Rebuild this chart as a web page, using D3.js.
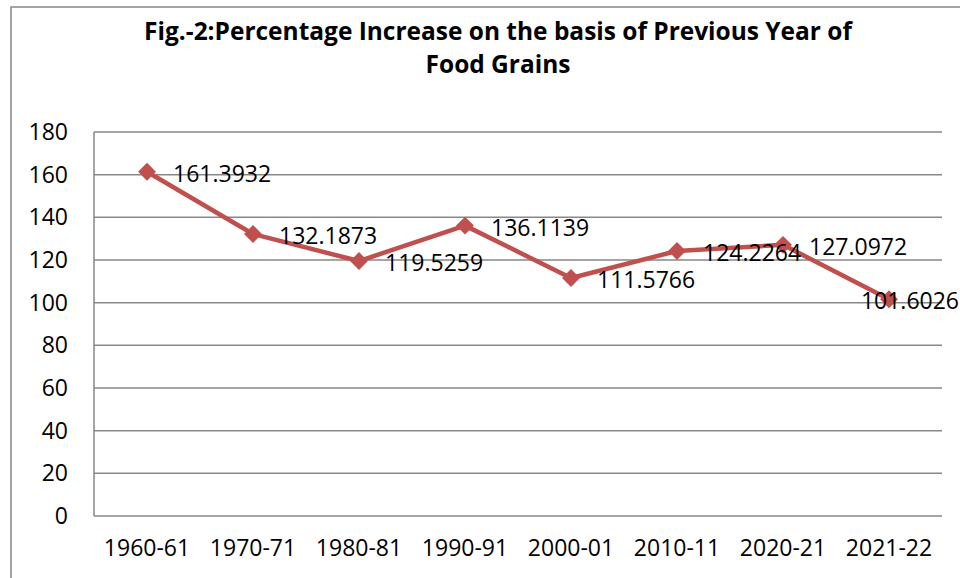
<!DOCTYPE html>
<html>
<head>
<meta charset="utf-8">
<script src="https://cdn.jsdelivr.net/npm/d3@7"></script>
<style>
  html, body { margin: 0; padding: 0; background: #fff; }
  svg { display: block; }
</style>
</head>
<body>
<script>
const categories = ["1960-61", "1970-71", "1980-81", "1990-91", "2000-01", "2010-11", "2020-21", "2021-22"];
const values = [161.3932, 132.1873, 119.5259, 136.1139, 111.5766, 124.2264, 127.0972, 101.6026];
const yTicks = [0, 20, 40, 60, 80, 100, 120, 140, 160, 180];
const titleLines = ["Fig.-2:Percentage Increase on the basis of Previous Year of", "Food Grains"];

const W = 960, H = 578;
const plot = { left: 94, right: 942, top: 132, bottom: 516 };
const font = "'Open Sans', 'Liberation Sans', sans-serif";
const lineColor = "#C0504D";
const gridColor = "#878787";

const svg = d3.select("body").append("svg").attr("width", W).attr("height", H);

// outer chart border
svg.append("rect")
  .attr("x", 11).attr("y", 7).attr("width", 980).attr("height", 600)
  .attr("fill", "#fff").attr("stroke", gridColor).attr("stroke-width", 1.5);

const x = d3.scaleBand().domain(categories).range([plot.left, plot.right]).padding(0);
const y = d3.scaleLinear().domain([0, 180]).range([plot.bottom, plot.top]);

// gridlines
svg.append("g").selectAll("line").data(yTicks).join("line")
  .attr("x1", plot.left).attr("x2", plot.right)
  .attr("y1", d => y(d)).attr("y2", d => y(d))
  .attr("stroke", gridColor).attr("stroke-width", 1.5);

// vertical axis line
svg.append("line")
  .attr("x1", plot.left).attr("x2", plot.left)
  .attr("y1", plot.top).attr("y2", plot.bottom)
  .attr("stroke", gridColor).attr("stroke-width", 1.5);

// y axis labels
const yAxis = d3.axisLeft(y).tickValues(yTicks).tickSize(0).tickPadding(26).tickFormat(d3.format("d"));
const gy = svg.append("g").attr("transform", `translate(${plot.left},0)`).call(yAxis);
gy.select(".domain").remove();
gy.selectAll("text").attr("font-family", font).attr("font-size", 23).attr("fill", "#000");

// x axis labels
const xAxis = d3.axisBottom(x).tickSize(0).tickPadding(24);
const gx = svg.append("g").attr("transform", `translate(0,${plot.bottom})`).call(xAxis);
gx.select(".domain").remove();
gx.selectAll("text").attr("font-family", font).attr("font-size", 23).attr("fill", "#000");

const cx = d => x(d) + x.bandwidth() / 2;
const data = categories.map((c, i) => ({ c, v: values[i] }));

// line
svg.append("path").datum(data)
  .attr("fill", "none").attr("stroke", lineColor).attr("stroke-width", 4.5)
  .attr("stroke-linejoin", "round")
  .attr("d", d3.line().x(d => cx(d.c)).y(d => y(d.v)));

// markers (diamonds)
svg.append("g").selectAll("path").data(data).join("path")
  .attr("transform", d => `translate(${cx(d.c)},${y(d.v)}) rotate(45)`)
  .attr("d", d3.symbol().type(d3.symbolSquare).size(160))
  .attr("fill", lineColor);

// data labels
const labels = svg.append("g").selectAll("text").data(data).join("text")
  .attr("font-family", font).attr("font-size", 23).attr("fill", "#000")
  .attr("dominant-baseline", "central")
  .attr("y", d => y(d.v) + 1)
  .text(d => d.v.toFixed(4));
labels.each(function(d) {
  const w = this.getComputedTextLength();
  let lx = cx(d.c) + 26;
  if (lx + w > W - 1) lx = W - 1 - w;
  d3.select(this).attr("x", lx);
});

// title
const title = svg.append("g").selectAll("text").data(titleLines).join("text")
  .attr("x", 498).attr("y", (d, i) => 40 + i * 33)
  .attr("text-anchor", "middle")
  .attr("font-family", font).attr("font-weight", "bold").attr("font-size", 22)
  .attr("fill", "#000")
  .text(d => d);
// fit first line to the reference width
const w0 = title.nodes()[0].getComputedTextLength();
const fs = 22 * 708 / w0;
title.attr("font-size", fs);
</script>
</body>
</html>
